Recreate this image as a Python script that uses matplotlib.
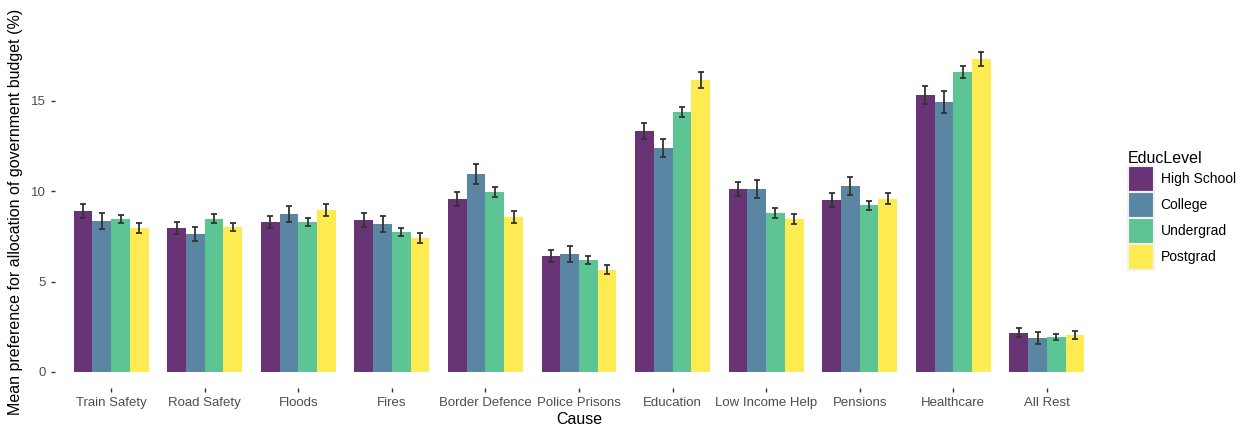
import matplotlib
matplotlib.use("Agg")
import matplotlib.pyplot as plt
from matplotlib.patches import Patch
from matplotlib.colors import to_rgb
import numpy as np

plt.rcParams['font.family'] = ['Liberation Sans', 'DejaVu Sans']

causes = ["Train Safety", "Road Safety", "Floods", "Fires", "Border Defence",
          "Police Prisons", "Education", "Low Income Help", "Pensions",
          "Healthcare", "All Rest"]
levels = ["High School", "College", "Undergrad", "Postgrad"]

high_school = [8.91, 7.97, 8.30, 8.41, 9.58, 6.42, 13.34, 10.13, 9.52, 15.33, 2.16]
college     = [8.36, 7.64, 8.75, 8.19, 10.96, 6.53, 12.40, 10.13, 10.29, 14.94, 1.88]
undergrad   = [8.47, 8.47, 8.30, 7.75, 9.96, 6.20, 14.39, 8.80, 9.24, 16.60, 1.94]
postgrad    = [7.97, 8.03, 8.97, 7.42, 8.58, 5.65, 16.16, 8.47, 9.58, 17.32, 2.05]

se_high_school = [0.38, 0.34, 0.34, 0.41, 0.38, 0.34, 0.46, 0.41, 0.39, 0.49, 0.25]
se_college     = [0.43, 0.38, 0.44, 0.45, 0.58, 0.45, 0.51, 0.48, 0.49, 0.60, 0.31]
se_undergrad   = [0.24, 0.25, 0.22, 0.20, 0.30, 0.21, 0.30, 0.27, 0.25, 0.35, 0.19]
se_postgrad    = [0.28, 0.24, 0.32, 0.27, 0.31, 0.25, 0.42, 0.30, 0.30, 0.41, 0.21]

means = [high_school, college, undergrad, postgrad]
errors = [se_high_school, se_college, se_undergrad, se_postgrad]
colors = ["#440154", "#31688E", "#35B779", "#FDE725"]
fill_alpha = 0.8

fig = plt.figure(figsize=(12.47, 4.29), dpi=100)
ax = fig.add_axes([55 / 1247, 1 - 388 / 429, (1103 - 55) / 1247, (388 - 35.6) / 429])

x = np.arange(len(causes))
group_w = 0.8
bw = group_w / len(levels)
for i, (vals, errs, col) in enumerate(zip(means, errors, colors)):
    pos = x - group_w / 2 + bw * (i + 0.5)
    ax.bar(pos, vals, width=bw, color=col, alpha=fill_alpha, linewidth=0, label=levels[i])
    ax.errorbar(pos, vals, yerr=errs, fmt="none", ecolor="#333333",
                elinewidth=1.3, capsize=2.5, capthick=1.3)

ax.set_xlim(-0.6, len(causes) - 0.4)
ax.set_ylim(-0.886, 18.62)
ax.set_xticks(x)
ax.set_xticklabels(causes)
ax.set_yticks([0, 5, 10, 15])
ax.set_yticklabels(["0", "5", "10", "15"])
ax.tick_params(axis="both", colors="#333333", labelcolor="#4D4D4D",
               labelsize=9.5, length=3, width=1)
for s in ax.spines.values():
    s.set_visible(False)

ax.set_xlabel("Cause", fontsize=11.5, color="black", labelpad=2)
ax.set_ylabel("Mean preference for allocation of government budget (%)",
              fontsize=11.5, color="black", labelpad=6)

# legend keys: translucent fill flattened onto white, framed by a light grey key background
def flatten(c):
    r, g, b = to_rgb(c)
    return tuple(fill_alpha * v + (1 - fill_alpha) for v in (r, g, b))

handles = [Patch(facecolor=flatten(c), edgecolor="#F2F2F2", linewidth=1.5)
           for c in colors]
leg = fig.legend(handles, levels, title="EducLevel", loc="upper left",
                 bbox_to_anchor=(1118 / 1247, 1 - 141 / 429), frameon=False,
                 fontsize=10, title_fontsize=11.5, handlelength=1.87,
                 handleheight=2.5, labelspacing=0.0, handletextpad=0.5,
                 borderpad=0.2)
leg._legend_box.align = "left"

fig.savefig("out.png", dpi=100)
